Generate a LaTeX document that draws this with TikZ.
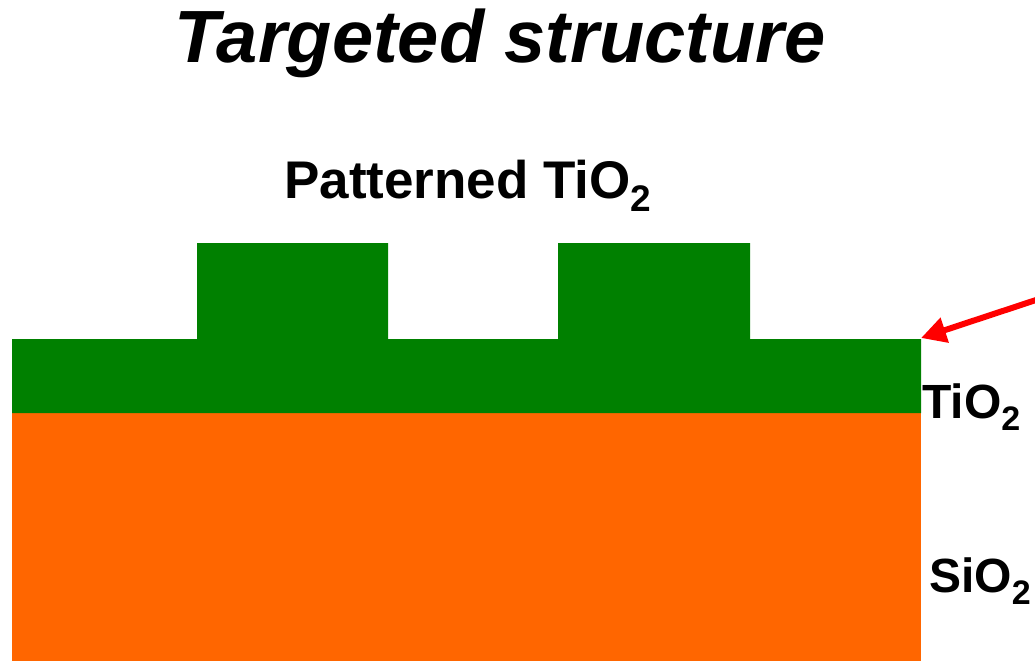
\documentclass[tikz,border=0pt]{standalone}
\usepackage{fontspec}
\setmainfont{Liberation Sans}
\usetikzlibrary{arrows.meta}
\definecolor{filmgreen}{RGB}{0,128,0}
\definecolor{oxideorange}{RGB}{255,102,0}
\newcommand{\subtwo}[1]{\raisebox{-0.25em}{\fontsize{#1}{#1}\selectfont 2}}
\begin{document}
\begin{tikzpicture}[x=1pt,y=-1pt,
  label/.style={inner sep=0pt,font=\bfseries},
  pointer/.style={draw=red,line width=6pt,-{Triangle[length=25pt,width=25pt]}}]
\useasboundingbox (0,0) rectangle (1035,661);
% SiO2 substrate
\fill[oxideorange] (12,413) rectangle (921,661);
% TiO2 film with two patterned ridges
\fill[filmgreen]
  (12,413) -- (12,339) -- (197,339) -- (197,243) -- (388,243) -- (388,339)
  -- (558,339) -- (558,243) -- (750,243) -- (750,339) -- (921,339) -- (921,413) -- cycle;
\coordinate (corner) at (921,338);
\coordinate (tail) at (1036,300);
\draw[pointer] (tail) -- (corner);
% labels
\node[label,anchor=base,font=\bfseries\itshape\fontsize{74}{80}\selectfont] (title) at (500,63) {Targeted structure};
\node[label,anchor=base west,font=\bfseries\fontsize{53}{60}\selectfont] (pat) at (284,198) {Patterned TiO\subtwo{37}};
\node[label,anchor=base west,font=\bfseries\fontsize{48}{54}\selectfont] (tio) at (922,418) {TiO\subtwo{34}};
\node[label,anchor=base west,font=\bfseries\fontsize{48}{54}\selectfont] (sio) at (929,592) {SiO\subtwo{34}};
\end{tikzpicture}
\end{document}
